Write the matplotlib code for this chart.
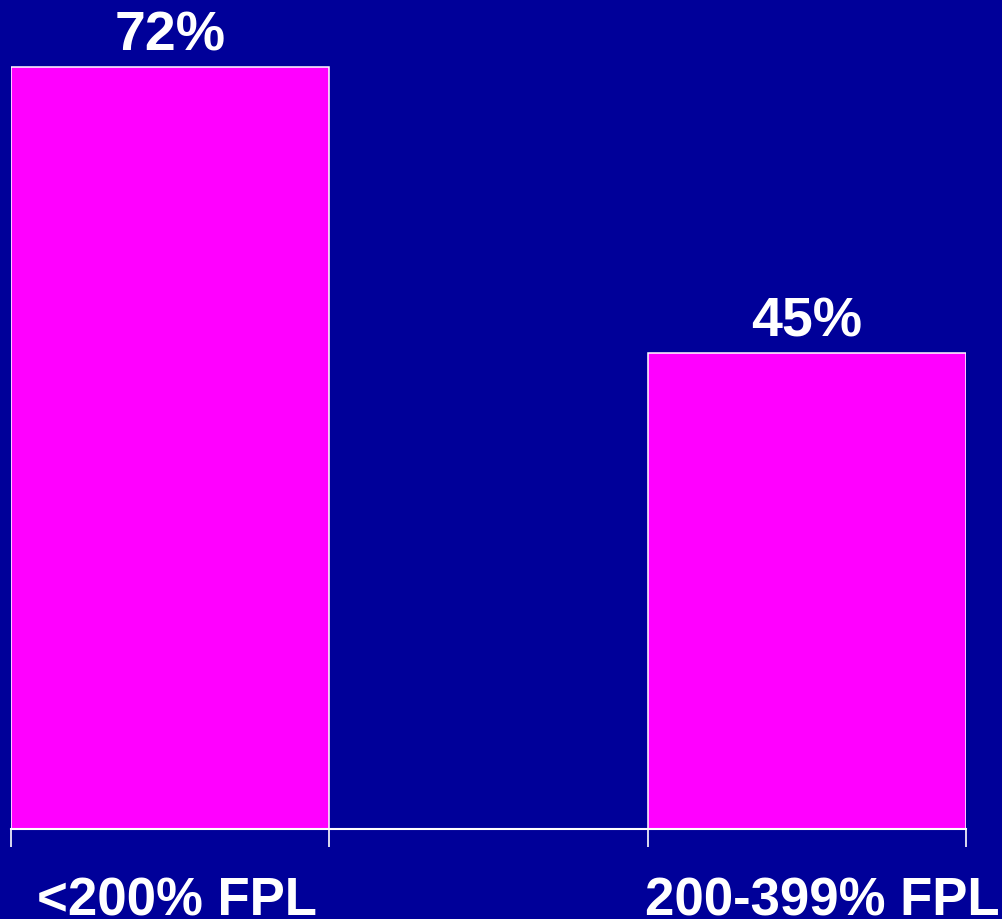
import matplotlib.pyplot as plt

# Datos del grafico
categorias = ["<200% FPL", "200-399% FPL"]
valores = [72, 45]
etiquetas = ["72%", "45%"]
posiciones = [0, 1]

FONDO = "#000099"
BARRA = "#FF00FF"

plt.rcParams['font.family'] = ['Liberation Sans', 'DejaVu Sans']

fig = plt.figure(figsize=(10.03, 9.19), dpi=100, facecolor=FONDO)
ax = fig.add_axes([11 / 1003, 90 / 919, 955 / 1003, 829 / 919])
ax.set_facecolor(FONDO)

ax.bar(posiciones, valores, width=0.5, color=BARRA, edgecolor="white", linewidth=1.1)

ax.set_xlim(-0.25, 1.25)
ax.set_ylim(0, 78.33)

for s in ["top", "right", "left"]:
    ax.spines[s].set_visible(False)
ax.spines["bottom"].set_color("white")
ax.spines["bottom"].set_linewidth(1.5)

ax.set_yticks([])
ax.set_xticks([-0.25, 0.25, 0.75, 1.25])
ax.set_xticklabels([])
ax.tick_params(axis="x", colors="white", length=13, width=1.2, direction="out")

# Etiquetas de valor sobre las barras
for x, v, t in zip(posiciones, valores, etiquetas):
    ax.annotate(t, xy=(x, v), xytext=(0, 12), textcoords="offset points",
                ha="center", va="baseline", color="white",
                fontsize=40, fontweight="bold")

# Etiquetas de categoria
desplazamientos = [7, 15]
for x, c, d in zip(posiciones, categorias, desplazamientos):
    ax.annotate(c, xy=(x, 0), xytext=(d * 0.72, -62), textcoords="offset points",
                ha="center", va="baseline", color="white",
                fontsize=38, fontweight="bold", annotation_clip=False)

fig.savefig("out.png", dpi=100, facecolor=FONDO)
